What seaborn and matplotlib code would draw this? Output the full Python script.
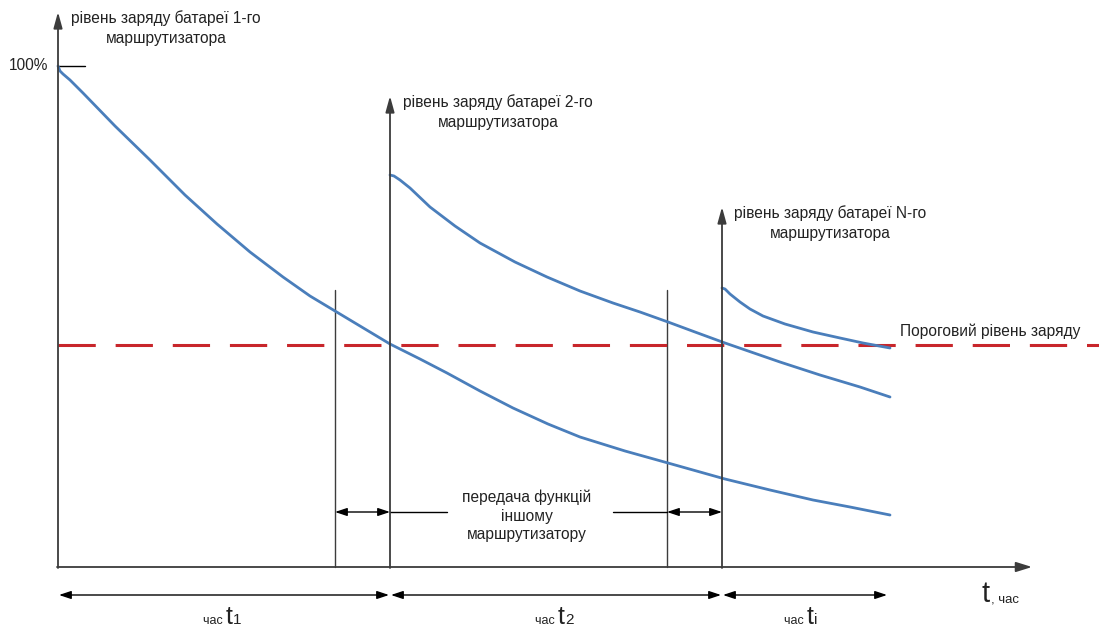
import numpy as np
import pandas as pd
import seaborn as sns
import matplotlib.pyplot as plt

# ---------- дані (координати схеми: x вправо, y вниз) ---------- #
bat1_x = [58, 60, 63, 70, 83, 115, 150, 185, 217, 250, 283, 310, 335, 360, 390, 420, 447, 480, 513, 548, 580, 625, 668, 725, 770, 813, 850, 890]
bat1_y = [66, 71, 74, 80, 93, 126, 160, 195, 224, 252, 277, 296, 311, 326, 344, 359, 373, 391, 408, 424, 437, 451, 463, 479, 490, 500, 507, 515]

bat2_x = [390, 394, 400, 410, 430, 455, 480, 515, 547, 580, 613, 640, 668, 695, 725, 780, 820, 860, 890]
bat2_y = [175, 176, 180, 188, 207, 226, 243, 262, 277, 291, 303, 312, 322, 332, 343, 362, 375, 387, 397]

batN_x = [722, 725, 730, 740, 750, 763, 785, 813, 840, 863, 890]
batN_y = [288, 289, 294, 302, 309, 316, 324, 332, 338, 343, 348]

threshold = 345
axes_x = [58, 390, 722]
axes_top = [12, 96, 207]
handover_x = [335, 667]

axis_labels = ['рівень заряду батареї 1-го\nмаршрутизатора',
               'рівень заряду батареї 2-го\nмаршрутизатора',
               'рівень заряду батареї N-го\nмаршрутизатора']
label_y = [28, 112, 223]
period_labels = ['t1', 't2', 'ti']
period_x = [[58, 390], [390, 722], [722, 888]]

sns.set_theme(style='white')
plt.rcParams['font.family'] = ['Liberation Sans', 'DejaVu Sans']

fig = plt.figure(figsize=(10.99, 6.37), dpi=100)
ax = fig.add_axes([0, 0, 1, 1])
ax.set_xlim(0, 1099)
ax.set_ylim(637, 0)
ax.axis('off')

axc = '#3c3c3c'
blue = '#4a7ebb'
txt = '#222222'
fs = 11.2

# ---------- осі ---------- #
ax.annotate('', xy=(1032, 567), xytext=(57, 567),
            arrowprops=dict(arrowstyle='-|>,head_length=0.8,head_width=0.25', color=axc, lw=1.3,
                            shrinkA=0, shrinkB=0))
for x0, top in zip(axes_x, axes_top):
    ax.annotate('', xy=(x0, top), xytext=(x0, 568),
                arrowprops=dict(arrowstyle='-|>,head_length=0.8,head_width=0.22', color=axc, lw=1.3,
                                shrinkA=0, shrinkB=0))
for x0 in handover_x:
    ax.plot([x0, x0], [290, 567], color=axc, lw=1.0)

ax.plot([58, 85], [66, 66], color='black', lw=1.0)
ax.text(48, 66, '100%', ha='right', va='center', fontsize=fs, color=txt)

# ---------- криві ---------- #
ax.plot([58, 1099], [threshold, threshold], color='#c8262b', lw=2.2, dashes=(12.2, 6.5))
for xs, ys in [(bat1_x, bat1_y), (bat2_x, bat2_y), (batN_x, batN_y)]:
    sns.lineplot(x=xs, y=ys, ax=ax, color=blue, lw=2, sort=False, estimator=None)

ax.text(990, 331, 'Пороговий рівень заряду', ha='center', va='center', fontsize=fs, color=txt)

# підписи осей
for x0, ly, lab in zip(axes_x, label_y, axis_labels):
    ax.text(x0 + 108, ly, lab, ha='center', va='center', fontsize=fs,
            color=txt, linespacing=1.35)

# ---------- передача функцій ---------- #
dbl = dict(arrowstyle='<|-|>,head_length=0.6,head_width=0.2', color='black', lw=1.0,
           shrinkA=0, shrinkB=0)
ax.annotate('', xy=(335, 512), xytext=(390, 512), arrowprops=dbl)
ax.annotate('', xy=(667, 512), xytext=(722, 512), arrowprops=dbl)
ax.plot([390, 447], [512, 512], color='black', lw=1.0)
ax.plot([613, 667], [512, 512], color='black', lw=1.0)
ax.text(527, 516, 'передача функцій\nіншому\nмаршрутизатору', ha='center', va='center',
        fontsize=fs, color=txt, linespacing=1.3)

# ---------- періоди ---------- #
narrow = ['Liberation Sans Narrow', 'Liberation Sans']
for (a, b), lab in zip(period_x, period_labels):
    ax.annotate('', xy=(a + 1, 595), xytext=(b - 1, 595), arrowprops=dbl)
    cx = (a + b) / 2
    ax.text(cx + 2, 624, 'час ', ha='right', va='baseline', fontsize=9,
            family=narrow, color=txt)
    ax.text(cx + 2, 624, lab[0], ha='left', va='baseline', fontsize=18,
            family=narrow, color=txt)
    ax.text(cx + 9, 624, lab[1], ha='left', va='baseline', fontsize=11,
            family=narrow, color=txt)

ax.text(982, 602, 't', ha='left', va='baseline', fontsize=21, family=narrow, color=txt)
ax.text(991, 602, ', час', ha='left', va='baseline', fontsize=9.5, family=narrow, color=txt)

fig.savefig('out.png', dpi=100)
